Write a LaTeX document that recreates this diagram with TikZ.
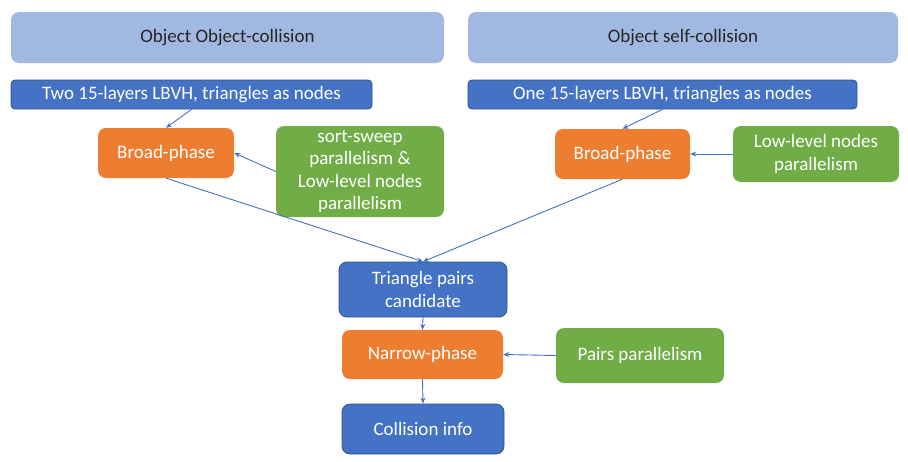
\documentclass[tikz,border=0pt]{standalone}
\usepackage{fontspec}
\setmainfont{Carlito}
\usetikzlibrary{arrows.meta}
\definecolor{headblue}{HTML}{A1B8E1}
\definecolor{boxblue}{HTML}{4472C4}
\definecolor{edgeblue}{HTML}{2F528F}
\definecolor{phaseorange}{HTML}{ED7D31}
\definecolor{paragreen}{HTML}{70AD47}

\begin{document}
\begin{tikzpicture}[x=1pt,y=-1pt,>={Stealth[length=6pt,width=5pt]},
    box/.style={inner sep=0pt,align=center,rounded corners=8pt,font=\fontsize{19}{22.5}\selectfont},
    head/.style={box,fill=headblue,text=black!85},
    data/.style={box,fill=boxblue,draw=edgeblue,line width=0.8pt,text=white},
    phase/.style={box,fill=phaseorange,text=white},
    para/.style={box,fill=paragreen,text=white},
    link/.style={->,draw=boxblue,line width=0.9pt}]

    \useasboundingbox (0,0) rectangle (908,461);

    \node[head] (oo) at (227.5,37.5) [minimum width=433,minimum height=51] {Object Object-collision};
    \node[head] (os) at (683,37.5) [minimum width=430,minimum height=51] {Object self-collision};

    \node[data] (lbvh2) at (191.5,94.5) [minimum width=361,minimum height=29,rounded corners=4pt] {Two 15-layers LBVH, triangles as nodes};
    \node[data] (lbvh1) at (662.5,94.5) [minimum width=389,minimum height=29,rounded corners=4pt] {One 15-layers LBVH, triangles as nodes};

    \node[phase] (bp1) at (166,153) [minimum width=136,minimum height=50] {Broad-phase};
    \node[para] (sw) at (360,171.5) [minimum width=168,minimum height=91] {sort-sweep\\parallelism \&\\Low-level nodes\\parallelism};
    \node[phase] (bp2) at (622.5,154) [minimum width=135,minimum height=50] {Broad-phase};
    \node[para] (ll) at (816,154) [minimum width=166,minimum height=56] {Low-level nodes\\parallelism};

    \node[data] (tpc) at (423,289.5) [minimum width=168,minimum height=55] {Triangle pairs\\candidate};
    \node[phase] (np) at (422.5,354.5) [minimum width=161,minimum height=49] {Narrow-phase};
    \node[para] (pp) at (640,355.5) [minimum width=168,minimum height=55] {Pairs parallelism};
    \node[data] (ci) at (423,429) [minimum width=162,minimum height=50] {Collision info};

    \path
        (lbvh2.south) edge[link] (bp1.north)
        (sw.west) edge[link] (bp1.east)
        (bp1.south) edge[link] (tpc.north)
        (lbvh1.south) edge[link] (bp2.north)
        (ll.west) edge[link] (bp2.east)
        (bp2.south) edge[link] (tpc.north)
        (tpc.south) edge[link] (np.north)
        (pp.west) edge[link] (np.east)
        (np.south) edge[link] (ci.north)
        ;
\end{tikzpicture}
\end{document}
